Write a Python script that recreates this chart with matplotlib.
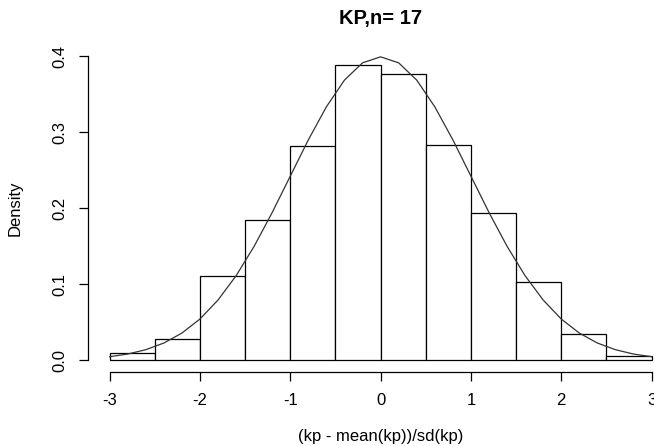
import matplotlib
matplotlib.use("Agg")
import matplotlib.pyplot as plt

plt.rcParams['font.family'] = ['Liberation Sans', 'DejaVu Sans']

# histogram bins and densities
bin_edges = [-3.0, -2.5, -2.0, -1.5, -1.0, -0.5, 0.0, 0.5, 1.0, 1.5, 2.0, 2.5, 3.0]
densities = [0.009, 0.028, 0.110, 0.184, 0.282, 0.388, 0.376, 0.283, 0.193, 0.103, 0.034, 0.005]

# curve points
curve_x = [-3.0, -2.8, -2.6, -2.4, -2.2, -2.0, -1.8, -1.6, -1.4, -1.2, -1.0, -0.8, -0.6, -0.4, -0.2, 0.0,
           0.2, 0.4, 0.6, 0.8, 1.0, 1.2, 1.4, 1.6, 1.8, 2.0, 2.2, 2.4, 2.6, 2.8, 3.0]
curve_y = [0.0044, 0.0079, 0.0136, 0.0224, 0.0355, 0.054, 0.079, 0.1109, 0.1497, 0.1942, 0.242,
           0.2897, 0.3332, 0.3683, 0.391, 0.3989, 0.391, 0.3683, 0.3332, 0.2897, 0.242,
           0.1942, 0.1497, 0.1109, 0.079, 0.054, 0.0355, 0.0224, 0.0136, 0.0079, 0.0044]

x_ticks = [-3, -2, -1, 0, 1, 2, 3]
y_ticks = [0.0, 0.1, 0.2, 0.3, 0.4]

W, H = 654, 446
fig = plt.figure(figsize=(W / 100, H / 100), dpi=100)
left, right, top, bottom = 88.0, 673.2, 44.6, 372.2
ax = fig.add_axes([left / W, 1 - bottom / H, (right - left) / W, (bottom - top) / H])
aw, ah = right - left, bottom - top

widths = [bin_edges[i + 1] - bin_edges[i] for i in range(len(densities))]
ax.bar(bin_edges[:-1], densities, width=widths, align='edge',
       facecolor='white', edgecolor='black', linewidth=0.9)
ax.plot(curve_x, curve_y, color='#333333', linewidth=0.9)

ax.set_xlim(-3.24, 3.24)
ax.set_ylim(-0.016, 0.415)

for s in ['top', 'right']:
    ax.spines[s].set_visible(False)
ax.spines['bottom'].set_bounds(-3, 3)
ax.spines['left'].set_bounds(0, 0.4)
ax.spines['bottom'].set_linewidth(0.9)
ax.spines['left'].set_linewidth(0.9)

ax.set_xticks(x_ticks)
ax.set_xticklabels([str(t) for t in x_ticks])
ax.set_yticks(y_ticks)
ax.set_yticklabels(['0.0', '0.1', '0.2', '0.3', '0.4'], rotation=90, va='center')
ax.tick_params(axis='both', length=6.7, width=0.9, labelsize=12)
ax.tick_params(axis='x', pad=8.5)
ax.tick_params(axis='y', pad=8)

ax.set_xlabel('(kp - mean(kp))/sd(kp)', fontsize=12, va='center')
ax.xaxis.set_label_coords(0.5, -(437 - bottom) / ah)
ax.set_ylabel('Density', fontsize=12, va='center')
ax.yaxis.set_label_coords(-(left - 15) / aw, 0.5)
ax.set_title('KP,n= 17', fontsize=14.5, fontweight='bold', va='center', y=1 + (top - 18) / ah, pad=0)

fig.savefig('out.png', dpi=100)
